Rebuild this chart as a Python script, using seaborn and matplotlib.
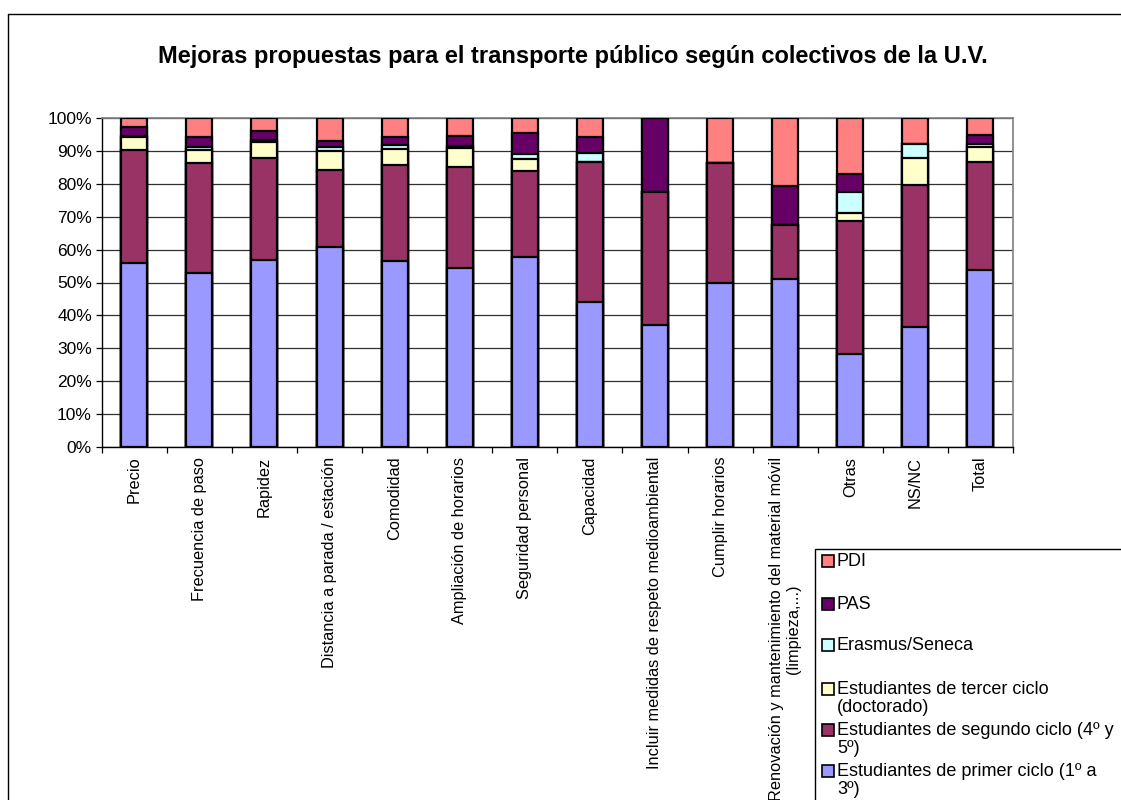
import numpy as np
import pandas as pd
import matplotlib
matplotlib.use("Agg")
import matplotlib.pyplot as plt
from matplotlib.patches import Rectangle
from matplotlib.lines import Line2D
import seaborn as sns

# Datos (porcentajes)
categorias = [
    "Precio", "Frecuencia de paso", "Rapidez", "Distancia a parada / estación",
    "Comodidad", "Ampliación de horarios", "Seguridad personal", "Capacidad",
    "Incluir medidas de respeto medioambiental", "Cumplir horarios",
    "Renovación y mantenimiento del material móvil\n(limpieza,...)",
    "Otras", "NS/NC", "Total",
]
primer_ciclo = [56.0, 53.0, 56.8, 60.7, 56.4, 54.4, 57.7, 44.2, 37.0, 49.8, 51.1, 28.3, 36.5, 53.9]
segundo_ciclo = [34.3, 33.3, 31.1, 23.4, 29.3, 30.7, 26.2, 42.3, 40.4, 36.4, 16.3, 40.5, 43.1, 32.6]
tercer_ciclo = [4.0, 4.1, 4.7, 5.8, 5.0, 5.7, 3.5, 0.0, 0.0, 0.0, 0.0, 2.3, 8.1, 4.6]
erasmus = [0.3, 0.7, 0.8, 1.2, 1.0, 0.7, 1.8, 3.0, 0.0, 0.0, 0.0, 6.5, 4.5, 0.9]
pas = [2.6, 3.0, 2.5, 1.8, 2.6, 3.1, 6.3, 4.6, 22.6, 0.0, 11.9, 5.4, 0.0, 2.9]
pdi = [2.8, 5.9, 4.1, 7.1, 5.7, 5.4, 4.5, 5.9, 0.0, 13.8, 20.7, 17.0, 7.8, 5.1]

series = [
    ("Estudiantes de primer ciclo (1º a\n3º)", primer_ciclo, "#9999FF"),
    ("Estudiantes de segundo ciclo (4º y\n5º)", segundo_ciclo, "#993366"),
    ("Estudiantes de tercer ciclo\n(doctorado)", tercer_ciclo, "#FFFFCC"),
    ("Erasmus/Seneca", erasmus, "#CCFFFF"),
    ("PAS", pas, "#660066"),
    ("PDI", pdi, "#FF8080"),
]

sns.set_style("white")
plt.rcParams["font.family"] = ["Liberation Sans", "DejaVu Sans"]
plt.rcParams["text.color"] = "black"
plt.rcParams["xtick.color"] = "black"
plt.rcParams["ytick.color"] = "black"
plt.rcParams["xtick.labelcolor"] = "black"
plt.rcParams["ytick.labelcolor"] = "black"

fig = plt.figure(figsize=(11.21, 8), dpi=100)
ax = fig.add_axes([101.7 / 1121, 1 - 447 / 800, (1013 - 101.7) / 1121, (447 - 118) / 800])

# Apilado: se dibuja el acumulado de arriba hacia abajo
acumulado = np.cumsum([np.array(s[1]) for s in series], axis=0)
for i in range(len(series) - 1, -1, -1):
    df = pd.DataFrame({"cat": categorias, "val": acumulado[i]})
    sns.barplot(data=df, x="cat", y="val", order=categorias, color=series[i][2],
                saturation=1, width=0.4, edgecolor="black", linewidth=1.6,
                ax=ax, zorder=3)

ax.set_xlim(-0.5, len(categorias) - 0.5)
ax.set_ylim(0, 100)
ax.set_yticks(np.arange(0, 101, 10))
ax.set_yticklabels([f"{v}%" for v in range(0, 101, 10)], fontsize=12.5)
ax.yaxis.grid(True, color="#303030", linewidth=0.9, zorder=0)
ax.set_axisbelow(True)
ax.tick_params(axis="y", direction="out", length=4, width=0.9, color="black", pad=3, left=True)

ax.set_xticks(range(len(categorias)))
ax.set_xticklabels(categorias, rotation=90, fontsize=11.8, va="top", ha="center",
                   multialignment="center")
ax.tick_params(axis="x", length=0, pad=7)
ax.set_xticks(np.arange(-0.5, len(categorias), 1), minor=True)
ax.tick_params(axis="x", which="minor", direction="out", length=4, width=0.9, color="black", bottom=True)
ax.set_xlabel("")
ax.set_ylabel("")

for s in ["left", "bottom"]:
    ax.spines[s].set_color("black")
    ax.spines[s].set_linewidth(1.0)
for s in ["top", "right"]:
    ax.spines[s].set_color("#808080")
    ax.spines[s].set_linewidth(1.2)

fig.text(573 / 1121, 1 - 56 / 800,
         "Mejoras propuestas para el transporte público según colectivos de la U.V.",
         ha="center", va="center", fontsize=17, fontweight="bold", color="black")

# Marco del área del gráfico
fig.add_artist(Line2D([8 / 1121, 8 / 1121], [1 - 14 / 800, 0], color="black", linewidth=1.0))
fig.add_artist(Line2D([8 / 1121, 1], [1 - 14 / 800, 1 - 14 / 800], color="black", linewidth=1.0))

# Leyenda (orden inverso, como en Excel)
fig.add_artist(Rectangle((815 / 1121, -0.1), 0.5, 1 - 549 / 800 + 0.1,
                         transform=fig.transFigure, facecolor="white",
                         edgecolor="black", linewidth=1.0))
filas_y = [561, 604, 645, 689, 730, 771]
for (nombre, _, color), y in zip(series[::-1], filas_y):
    fig.add_artist(Rectangle((822 / 1121, 1 - (y + 6) / 800), 12 / 1121, 12 / 800,
                             transform=fig.transFigure, facecolor=color,
                             edgecolor="black", linewidth=1.2))
    fig.text(837 / 1121, 1 - (y - 8) / 800, nombre, ha="left", va="top",
             fontsize=13, linespacing=1.05, color="black")

fig.savefig("out.png", dpi=100)
